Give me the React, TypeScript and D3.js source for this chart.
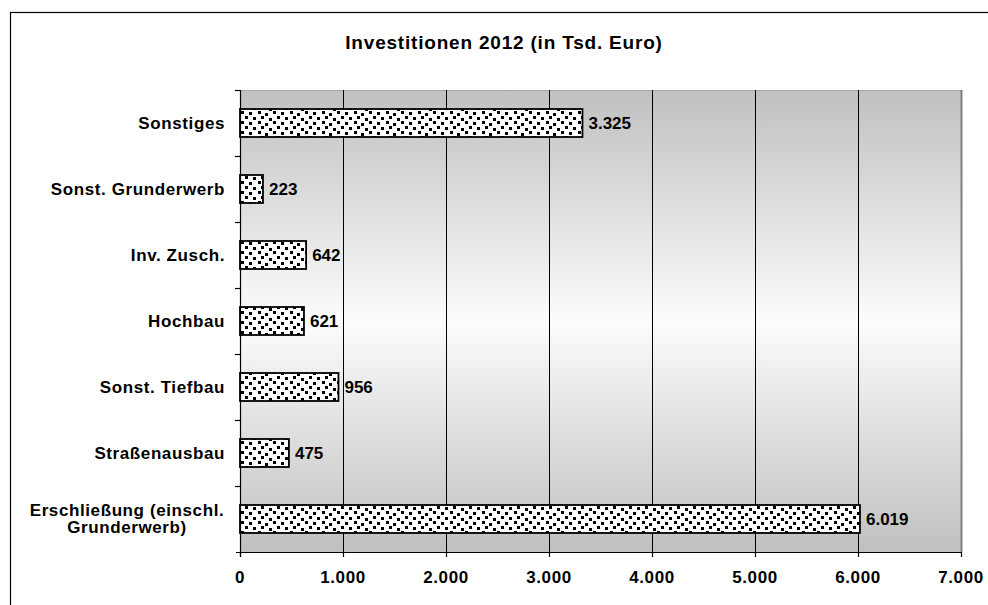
import React from "react";
import * as d3 from "d3";

const title = "Investitionen 2012 (in Tsd. Euro)";
const categories = [
  "Sonstiges",
  "Sonst. Grunderwerb",
  "Inv. Zusch.",
  "Hochbau",
  "Sonst. Tiefbau",
  "Straßenausbau",
  "Erschließung (einschl.\nGrunderwerb)",
];
const values = [3325, 223, 642, 621, 956, 475, 6019];
const xTicks = [0, 1000, 2000, 3000, 4000, 5000, 6000, 7000];

const W = 988;
const H = 605;
const plot = { left: 240, top: 90, right: 961, bottom: 552 };
const FONT = "'Liberation Sans', Arial, Helvetica, sans-serif";

const locale = d3.formatLocale({ decimal: ",", thousands: ".", grouping: [3], currency: ["", " €"] });
const fmt = locale.format(",d");

// confetti pattern dot offsets within a 32x10 tile
const dotCells: [number, number][] = [
  [0, 0], [8, 1], [17, 0], [24, 2],
  [4, 5], [12, 6], [20, 5], [28, 7],
];

export default function App() {
  const x = d3.scaleLinear().domain([0, 7000]).range([plot.left, plot.right]);
  const y = d3.scaleBand<string>().domain(categories).range([plot.top, plot.bottom]).paddingInner(0).paddingOuter(0);
  const bw = y.bandwidth();
  const barH = 28;

  return (
    <svg width={W} height={H} style={{ position: "absolute", left: 0, top: 0, display: "block" }} fontFamily={FONT}>
      <defs>
        <linearGradient id="bg" x1="0" y1="0" x2="0" y2="1">
          <stop offset="0" stopColor="#c0c0c0" />
          <stop offset="0.5" stopColor="#fcfcfc" />
          <stop offset="1" stopColor="#c0c0c0" />
        </linearGradient>
        <pattern id="dots" patternUnits="userSpaceOnUse" width="32" height="10" x={plot.left + 1} y="1">
          <rect width="32" height="10" fill="#ffffff" />
          {dotCells.map(([dx, dy], k) => (
            <rect key={k} x={dx} y={dy} width="3" height="3" fill="#000" />
          ))}
        </pattern>
      </defs>
      <rect x={0} y={0} width={W} height={H} fill="#fff" />
      <rect x={10.5} y={12.5} width={1000} height={620} fill="none" stroke="#000" strokeWidth={1.2} />

      <text x={504} y={49} textAnchor="middle" fontSize={19} fontWeight="bold" letterSpacing={0.8} fill="#000">
        {title}
      </text>

      {/* plot background */}
      <rect x={plot.left} y={plot.top} width={plot.right - plot.left} height={plot.bottom - plot.top} fill="url(#bg)" />
      <line x1={plot.left} x2={plot.right} y1={plot.top + 0.5} y2={plot.top + 0.5} stroke="#a8a8a8" strokeWidth={1} />
      <line x1={plot.right + 0.5} x2={plot.right + 0.5} y1={plot.top} y2={plot.bottom} stroke="#808080" strokeWidth={2} />

      {/* gridlines */}
      {xTicks.slice(1, -1).map((t) => (
        <line key={"g" + t} x1={Math.round(x(t)) + 0.5} x2={Math.round(x(t)) + 0.5} y1={plot.top} y2={plot.bottom} stroke="#000" strokeWidth={1} />
      ))}

      {/* bars */}
      {categories.map((c, i) => {
        const cy = (y(c) as number) + bw / 2;
        return (
          <g key={"b" + i}>
            <rect
              x={x(0)}
              y={cy - barH / 2}
              width={x(values[i]) - x(0)}
              height={barH}
              fill="url(#dots)"
              stroke="#000"
              strokeWidth={1.8}
            />
            <text x={x(values[i]) + 6} y={cy + 5.5} fontSize={17} fontWeight="bold" fill="#000">
              {fmt(values[i])}
            </text>
          </g>
        );
      })}

      {/* axes */}
      <line x1={plot.left + 0.5} x2={plot.left + 0.5} y1={plot.top} y2={plot.bottom + 4} stroke="#000" strokeWidth={1.2} />
      <line x1={plot.left - 4} x2={plot.right + 1} y1={plot.bottom + 0.5} y2={plot.bottom + 0.5} stroke="#000" strokeWidth={1.2} />
      {categories.map((c, i) => (
        <line key={"yt" + i} x1={plot.left - 5} x2={plot.left} y1={Math.round(y(c) as number) + 0.5} y2={Math.round(y(c) as number) + 0.5} stroke="#000" strokeWidth={1.2} />
      ))}
      {xTicks.map((t) => (
        <g key={"xt" + t}>
          <line x1={Math.round(x(t)) + 0.5} x2={Math.round(x(t)) + 0.5} y1={plot.bottom} y2={plot.bottom + 5} stroke="#000" strokeWidth={1.2} />
          <text x={x(t)} y={583} textAnchor="middle" fontSize={17} fontWeight="bold" letterSpacing={0.6} fill="#000">
            {fmt(t)}
          </text>
        </g>
      ))}

      {/* category labels */}
      {categories.map((c, i) => {
        const cy = (y(c) as number) + bw / 2;
        const lines = c.split("\n");
        const lh = 17.5;
        if (lines.length === 1) {
          return (
            <text key={"c" + i} x={225} y={cy + 5.5} textAnchor="end" fontSize={17} fontWeight="bold" letterSpacing={0.6} fill="#000">
              {c}
            </text>
          );
        }
        const cx = 127;
        return (
          <text key={"c" + i} textAnchor="middle" fontSize={17} fontWeight="bold" letterSpacing={0.6} fill="#000">
            {lines.map((l, j) => (
              <tspan key={j} x={cx} y={cy + 5.5 + (j - (lines.length - 1) / 2) * lh}>
                {l}
              </tspan>
            ))}
          </text>
        );
      })}
    </svg>
  );
}
